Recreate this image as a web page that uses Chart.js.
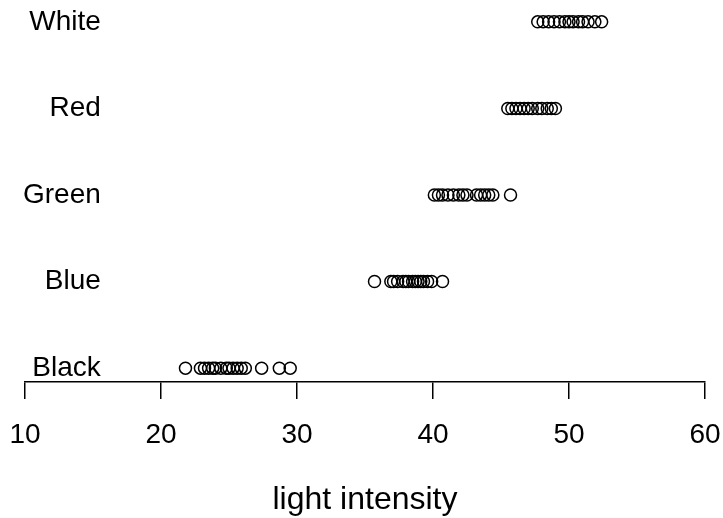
<!DOCTYPE html>
<html>
<head>
<meta charset="utf-8">
<script src="https://cdn.jsdelivr.net/npm/chart.js@4.4.1/dist/chart.umd.min.js"></script>
<style>
  html, body { margin: 0; padding: 0; background: #fff; }
  #wrap { width: 723px; height: 518px; }
</style>
</head>
<body>
<div id="wrap"><canvas id="chart"></canvas></div>
<script>
// groupes, du bas vers le haut
const colours = ['Black', 'Blue', 'Green', 'Red', 'White'];

// intensité lumineuse
const black = [21.8, 22.9, 23.2, 23.5, 23.8, 24.0, 24.4, 24.8, 25.0, 25.3, 25.6, 25.9, 26.2, 27.4, 28.7, 29.5];
const blue = [35.7, 36.9, 37.1, 37.4, 37.8, 38.0, 38.2, 38.5, 38.7, 38.9, 39.1, 39.3, 39.6, 39.9, 40.7];
const green = [40.1, 40.4, 40.7, 41.1, 41.5, 41.9, 42.2, 42.5, 43.2, 43.5, 43.8, 44.1, 44.4, 45.7];
const red = [45.5, 45.8, 46.1, 46.4, 46.7, 47.0, 47.3, 47.7, 48.0, 48.4, 48.7, 49.0];
const white = [47.7, 48.1, 48.5, 48.9, 49.3, 49.7, 50.0, 50.3, 50.7, 51.0, 51.4, 51.9, 52.4];

const xTicks = [10, 20, 30, 40, 50, 60];

const series = [black, blue, green, red, white];

const datasets = series.map((vals, i) => ({
    label: colours[i],
    data: vals.map(v => ({ x: v, y: i + 1 })),
    pointStyle: 'circle',
    pointRadius: 6,
    pointHoverRadius: 6,
    borderColor: '#000',
    backgroundColor: 'rgba(0,0,0,0)',
    borderWidth: 1.5,
    showLine: false
}));

const family = 'Liberation Sans, Arial, sans-serif';
const font = { family: family, size: 28, lineHeight: 1 };

new Chart(document.getElementById('chart'), {
    type: 'scatter',
    data: { datasets: datasets },
    options: {
        responsive: true,
        maintainAspectRatio: false,
        animation: false,
        layout: { padding: { left: 25, right: 18, top: 8, bottom: 0 } },
        plugins: {
            legend: { display: false },
            tooltip: { enabled: false }
        },
        scales: {
            x: {
                type: 'linear',
                min: 10,
                max: 60,
                afterBuildTicks: axis => { axis.ticks = xTicks.map(v => ({ value: v })); },
                afterFit: axis => { axis.paddingLeft = 0; axis.paddingRight = 0; axis.height = 136; },
                border: { display: true, color: '#000', width: 1.5 },
                grid: { drawOnChartArea: false, drawTicks: true, tickLength: 17, color: '#000', lineWidth: 1.5 },
                ticks: { color: '#000', font: font, padding: 22, maxRotation: 0 },
                title: { display: true, text: 'light intensity', color: '#000', font: { family: family, size: 32, lineHeight: 1.1 }, padding: { top: 0, bottom: 0 } }
            },
            y: {
                type: 'linear',
                min: 0.84,
                max: 5.16,
                afterBuildTicks: axis => { axis.ticks = colours.map((c, i) => ({ value: i + 1 })); },
                afterFit: axis => { axis.paddingTop = 0; axis.paddingBottom = 0; axis.width = 0; },
                border: { display: false },
                grid: { display: false, drawTicks: false },
                ticks: {
                    mirror: true,
                    crossAlign: 'far',
                    padding: -2,
                    color: '#000',
                    font: font,
                    callback: value => colours[value - 1]
                }
            }
        }
    }
});
</script>
</body>
</html>
